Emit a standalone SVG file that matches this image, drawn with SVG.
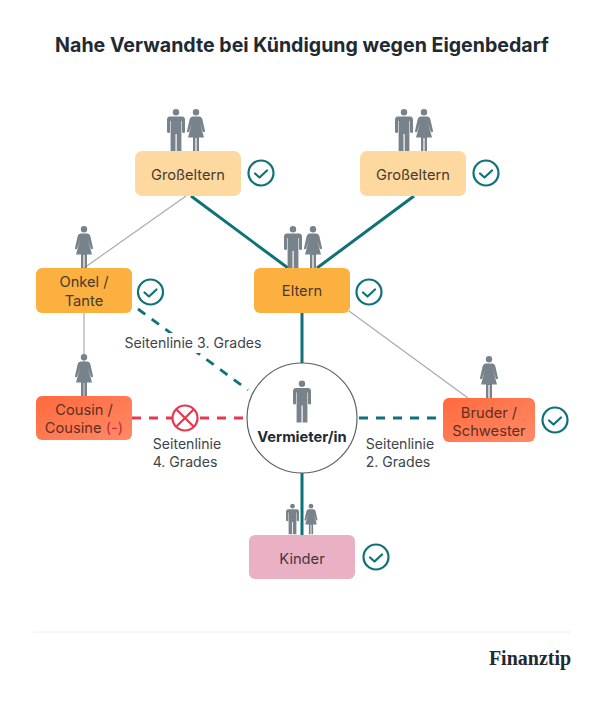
<svg xmlns="http://www.w3.org/2000/svg" width="604" height="702" viewBox="0 0 604 702">
<style>
text{font-family:Inter,"Liberation Sans",sans-serif;fill:#333a40;text-anchor:middle}
.nl{font-size:14.700px;fill:#4a3a2c}
.sm{font-size:14.100px;fill:#3d444a}
.teal{stroke:#0e7278;stroke-width:3;fill:none}
.grey{stroke:#a9abad;stroke-width:1.200;fill:none}
.dt{stroke:#0e7278;stroke-width:2.800;fill:none;stroke-dasharray:9 8}
.dr{stroke:#e8384f;stroke-width:2.800;fill:none;stroke-dasharray:9 8}
.ck circle{fill:#fff;stroke:#0e7278;stroke-width:2.200}
.ck path{fill:none;stroke:#0e7278;stroke-width:2.200;stroke-linecap:round;stroke-linejoin:round}
.fig{fill:#78828a}
</style>
<defs>
<symbol id="man" viewBox="0 0 18 42" overflow="visible">
<circle cx="9" cy="3.200" r="3.200"/>
<path d="M3 7.500h12q2.800 0 3 3V23q0 1-1.200 1T15 23V12h-.6v30H9.700V25h-1.200v17H3.600V12H3v11q0 1-1.200 1T0 23V10.500q.2-3 3-3z"/>
</symbol>
<symbol id="woman" viewBox="0 0 18 42" overflow="visible">
<circle cx="9" cy="3.200" r="3.200"/>
<path d="M5.500 7.500h7q2 0 2.800 2.500L18 22q.2 1-.8 1.200T15.600 22L13 14l4 14.500H12V42H9.600V29H8.400V42H6V28.500H1L5 14 2.400 22q-.4 1.400-1.600 1.200T0 22L2.700 10q.8-2.500 2.800-2.500z"/>
</symbol>
<linearGradient id="gCousin" x1="0" y1="0" x2="1" y2="1"><stop offset="0" stop-color="#ff6a3d"/><stop offset="1" stop-color="#ff8a68"/></linearGradient>
</defs>
<rect width="604" height="702" fill="#fff"/>
<text x="302" y="52" style="font-size:19.600px;font-weight:700;fill:#1f2a33">Nahe Verwandte bei Kündigung wegen Eigenbedarf</text>

<g id="connectors">
<path class="teal" d="M191 196L288 268M414 196L317 268M302 313V364M302 473V535"/>
<path class="grey" d="M186 196L84 268M84 313V396M349 311L468 398"/>
<path class="dt" d="M138 309L248 390M359 418H443"/>
<path class="dr" d="M132 418H246"/>
</g>

<g id="grosseltern-1">
<use href="#man" class="fig" x="167" y="109" width="18" height="42"/>
<use href="#woman" class="fig" x="187" y="109" width="18" height="42"/>
<rect x="135" y="151" width="106" height="45" rx="7" fill="#fdd9a0"/>
<text class="nl" x="188" y="180">Großeltern</text>
</g>
<g id="check-1" class="ck"><circle cx="261" cy="173" r="12.500"/><path d="M255 173.500l4.500 4 7.500-7"/></g>

<g id="grosseltern-2">
<use href="#man" class="fig" x="395" y="109" width="18" height="42"/>
<use href="#woman" class="fig" x="415" y="109" width="18" height="42"/>
<rect x="360" y="151" width="106" height="45" rx="7" fill="#fdd9a0"/>
<text class="nl" x="413" y="180">Großeltern</text>
</g>
<g id="check-2" class="ck"><circle cx="486" cy="173" r="12.500"/><path d="M480 173.500l4.500 4 7.500-7"/></g>

<g id="onkel-tante">
<use href="#woman" class="fig" x="75" y="226" width="18" height="42"/>
<rect x="36" y="268" width="96" height="45" rx="6" fill="#fbb040"/>
<text class="nl" x="84" y="287">Onkel /</text>
<text class="nl" x="84" y="306">Tante</text>
</g>
<g id="check-3" class="ck"><circle cx="150.500" cy="292" r="12.500"/><path d="M144.500 292.500l4.500 4 7.500-7"/></g>

<g id="eltern">
<use href="#man" class="fig" x="284" y="226" width="18" height="42"/>
<use href="#woman" class="fig" x="304" y="226" width="18" height="42"/>
<rect x="254" y="268" width="96" height="45" rx="6" fill="#fbb040"/>
<text class="nl" x="302" y="296">Eltern</text>
</g>
<g id="check-4" class="ck"><circle cx="369" cy="292" r="12.500"/><path d="M363 292.500l4.500 4 7.500-7"/></g>

<g id="cousin">
<use href="#woman" class="fig" x="75" y="354" width="18" height="42"/>
<rect x="36" y="396" width="96" height="44" rx="6" fill="url(#gCousin)"/>
<text class="nl" x="84" y="415" style="fill:#5e2f22">Cousin /</text>
<text class="nl" x="84" y="433" style="fill:#5e2f22">Cousine <tspan fill="#c8283c">(-)</tspan></text>
</g>
<g id="cross">
<circle cx="185" cy="418" r="12.500" fill="#fff" stroke="#e8384f" stroke-width="2.200"/>
<path d="M176.200 409.200l17.600 17.600M193.800 409.200l-17.600 17.600" stroke="#e8384f" stroke-width="2.200" fill="none"/>
</g>

<g id="vermieter">
<circle cx="302" cy="418" r="55" fill="#fff" stroke="#5b6166" stroke-width="1.200"/>
<use href="#man" class="fig" x="293" y="380" width="18" height="43"/>
<text x="302" y="442" style="font-size:14.700px;font-weight:700;fill:#1f2a33">Vermieter/in</text>
</g>

<g id="bruder">
<use href="#woman" class="fig" x="480" y="356" width="18" height="42"/>
<rect x="443" y="398" width="92" height="44" rx="6" fill="url(#gCousin)"/>
<text class="nl" x="489" y="418" style="fill:#5e2f22">Bruder /</text>
<text class="nl" x="489" y="436" style="fill:#5e2f22">Schwester</text>
</g>
<g id="check-5" class="ck"><circle cx="555" cy="420" r="12.500"/><path d="M549 420.500l4.500 4 7.500-7"/></g>

<g id="kinder">
<use href="#man" class="fig" x="286" y="503" width="13" height="32"/>
<use href="#woman" class="fig" x="304.500" y="503" width="13" height="32"/>
<rect x="249" y="535" width="106" height="44" rx="6" fill="#e9b1c3"/>
<text class="nl" x="302" y="564" style="fill:#3f3a40">Kinder</text>
</g>
<g id="check-6" class="ck"><circle cx="376" cy="557" r="12.500"/><path d="M370 557.500l4.500 4 7.500-7"/></g>

<g id="labels">
<rect x="120" y="333" width="146" height="20" fill="#fff"/>
<text class="sm" x="193" y="348">Seitenlinie 3. Grades</text>
<text class="sm" x="187" y="449">Seitenlinie</text>
<text class="sm" x="185" y="467">4. Grades</text>
<text class="sm" x="400" y="449">Seitenlinie</text>
<text class="sm" x="398" y="467">2. Grades</text>
</g>

<line x1="33" y1="632" x2="571" y2="632" stroke="#eeeeee" stroke-width="1"/>
<text x="530" y="665" style="font-family:'Liberation Serif','DejaVu Serif',serif;font-size:20px;font-weight:700;fill:#1f2a33">Finanztip</text>
</svg>
